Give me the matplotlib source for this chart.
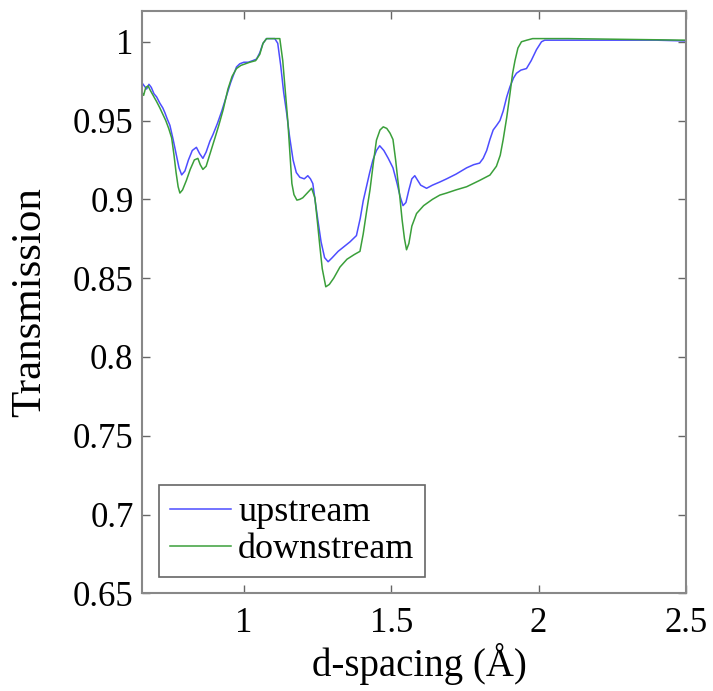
import matplotlib
matplotlib.use('Agg')
import matplotlib.pyplot as plt

# upstream (azul)
x_up = [0.654, 0.662, 0.670, 0.678, 0.686, 0.695, 0.704, 0.715, 0.725, 0.732,
        0.740, 0.749, 0.760, 0.770, 0.780, 0.789, 0.800, 0.812, 0.825, 0.839,
        0.850, 0.861, 0.872, 0.885, 0.895, 0.910, 0.925, 0.940, 0.955, 0.965,
        0.975, 0.986, 1.000, 1.015, 1.030, 1.043, 1.054, 1.065, 1.077, 1.090,
        1.105, 1.115, 1.125, 1.135, 1.145, 1.155, 1.167, 1.178, 1.190, 1.205,
        1.217, 1.226, 1.234, 1.242, 1.251, 1.262, 1.274, 1.286, 1.300, 1.320,
        1.340, 1.360, 1.382, 1.395, 1.405, 1.416, 1.427, 1.438, 1.450, 1.461,
        1.475, 1.490, 1.506, 1.520, 1.530, 1.540, 1.550, 1.560, 1.570, 1.580,
        1.590, 1.600, 1.620, 1.640, 1.665, 1.688, 1.720, 1.756, 1.780, 1.800,
        1.812, 1.824, 1.835, 1.846, 1.858, 1.869, 1.880, 1.892, 1.903, 1.915,
        1.925, 1.940, 1.959, 1.975, 1.993, 2.010, 2.021, 2.100, 2.200, 2.300,
        2.400, 2.500]
y_up = [0.974, 0.972, 0.970, 0.973, 0.971, 0.967, 0.965, 0.961, 0.958, 0.955,
        0.951, 0.947, 0.938, 0.929, 0.920, 0.9155, 0.918, 0.925, 0.931, 0.933,
        0.929, 0.926, 0.930, 0.937, 0.941, 0.948, 0.956, 0.965, 0.974, 0.979,
        0.984, 0.986, 0.987, 0.987, 0.988, 0.989, 0.993, 0.999, 1.002, 1.002,
        1.002, 0.999, 0.985, 0.968, 0.955, 0.940, 0.925, 0.917, 0.914, 0.913,
        0.915, 0.913, 0.910, 0.899, 0.887, 0.873, 0.863, 0.8604, 0.863, 0.867,
        0.870, 0.873, 0.877, 0.888, 0.899, 0.908, 0.917, 0.925, 0.931, 0.934,
        0.931, 0.926, 0.920, 0.910, 0.902, 0.896, 0.898, 0.906, 0.913, 0.915,
        0.912, 0.909, 0.907, 0.909, 0.911, 0.913, 0.916, 0.920, 0.922, 0.923,
        0.926, 0.931, 0.938, 0.944, 0.947, 0.950, 0.956, 0.965, 0.9715, 0.977,
        0.980, 0.982, 0.983, 0.988, 0.995, 1.000, 1.001, 1.001, 1.001, 1.001,
        1.001, 1.0005]

# downstream (verde)
x_down = [0.654, 0.660, 0.667, 0.675, 0.683, 0.692, 0.704, 0.715, 0.725, 0.735,
          0.745, 0.755, 0.763, 0.770, 0.777, 0.783, 0.792, 0.805, 0.818, 0.832,
          0.844, 0.852, 0.861, 0.872, 0.887, 0.902, 0.915, 0.930, 0.946, 0.960,
          0.975, 0.990, 1.005, 1.020, 1.040, 1.054, 1.065, 1.077, 1.100, 1.122,
          1.132, 1.140, 1.149, 1.156, 1.163, 1.170, 1.180, 1.190, 1.200, 1.215,
          1.230, 1.241, 1.250, 1.258, 1.266, 1.278, 1.290, 1.305, 1.326, 1.350,
          1.375, 1.394, 1.405, 1.417, 1.428, 1.440, 1.450, 1.462, 1.473, 1.485,
          1.496, 1.506, 1.515, 1.522, 1.529, 1.537, 1.545, 1.552, 1.560, 1.570,
          1.586, 1.610, 1.640, 1.665, 1.688, 1.720, 1.756, 1.800, 1.835, 1.857,
          1.870, 1.880, 1.892, 1.903, 1.912, 1.920, 1.930, 1.942, 1.960, 1.980,
          2.100, 2.300, 2.500]
y_down = [0.968, 0.966, 0.971, 0.972, 0.969, 0.966, 0.962, 0.958, 0.954, 0.950,
          0.945, 0.939, 0.928, 0.917, 0.908, 0.904, 0.906, 0.912, 0.919, 0.925,
          0.926, 0.922, 0.919, 0.921, 0.930, 0.939, 0.947, 0.957, 0.970, 0.978,
          0.983, 0.985, 0.986, 0.987, 0.988, 0.992, 0.999, 1.002, 1.002, 1.002,
          0.988, 0.970, 0.950, 0.930, 0.910, 0.903, 0.8995, 0.900, 0.901, 0.904,
          0.907, 0.901, 0.885, 0.870, 0.856, 0.8445, 0.846, 0.850, 0.857, 0.862,
          0.865, 0.867, 0.878, 0.893, 0.906, 0.924, 0.9376, 0.944, 0.946, 0.945,
          0.942, 0.938, 0.925, 0.913, 0.902, 0.887, 0.875, 0.868, 0.872, 0.883,
          0.891, 0.896, 0.900, 0.9027, 0.904, 0.906, 0.908, 0.912, 0.9154, 0.921,
          0.928, 0.938, 0.952, 0.967, 0.980, 0.988, 0.996, 1.000, 1.001, 1.002,
          1.002, 1.0015, 1.001]

y_ticks = [0.65, 0.7, 0.75, 0.8, 0.85, 0.9, 0.95, 1]
y_tick_labels = ['0.65', '0.7', '0.75', '0.8', '0.85', '0.9', '0.95', '1']
x_ticks = [1, 1.5, 2, 2.5]
x_tick_labels = ['1', '1.5', '2', '2.5']

plt.rcParams['font.family'] = ['Liberation Serif', 'DejaVu Serif']

fig = plt.figure(figsize=(7.13, 6.91), dpi=100)
ax = fig.add_axes([0.199, 0.1414, 0.763, 0.8431])

ax.plot(x_up, y_up, color='#4d4dff', linewidth=1.1, label='upstream')
ax.plot(x_down, y_down, color='#3a9f3a', linewidth=1.1, label='downstream')

ax.set_xlim(0.654, 2.5)
ax.set_ylim(0.65, 1.0197)
ax.set_xticks(x_ticks)
ax.set_xticklabels(x_tick_labels)
ax.set_yticks(y_ticks)
ax.set_yticklabels(y_tick_labels)

ax.tick_params(direction='in', length=6, width=1, color='#666666',
               labelsize=25, top=True, right=True)
ax.tick_params(axis='y', pad=6)
ax.tick_params(axis='x', pad=10)
for s in ax.spines.values():
    s.set_color('#888888')
    s.set_linewidth(1.5)

ax.set_xlabel('d-spacing (Å)', fontsize=28)
ax.set_ylabel('Transmission', fontsize=31)
ax.xaxis.set_label_coords(0.511, -0.085)
ax.yaxis.set_label_coords(-0.17, 0.5)

leg = ax.legend(loc='lower left', bbox_to_anchor=(0.031, 0.028), borderaxespad=0,
                fontsize=26, handlelength=1.7, handletextpad=0.2,
                labelspacing=0.1, borderpad=0.3, fancybox=False, framealpha=1)
leg.get_frame().set_edgecolor('#666666')
leg.get_frame().set_linewidth(1.2)

fig.savefig('out.png', dpi=100)
